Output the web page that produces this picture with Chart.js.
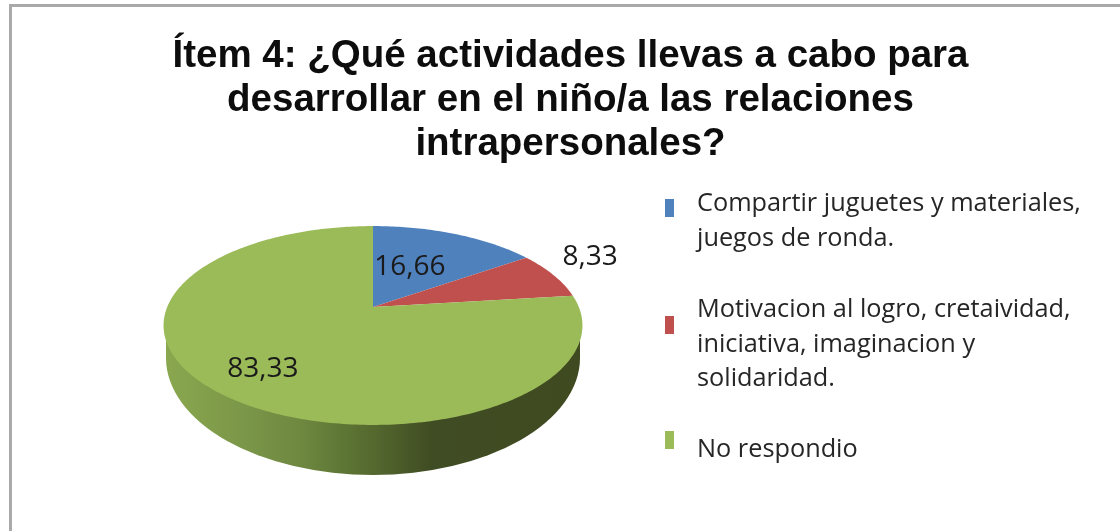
<!DOCTYPE html>
<html><head><meta charset="utf-8">
<style>html,body{margin:0;padding:0;background:#fff;overflow:hidden}#w{width:1120px;height:531px;position:relative;overflow:hidden}canvas{display:block;filter:blur(.5px)}</style>
<script src="https://cdn.jsdelivr.net/npm/chart.js@4/dist/chart.umd.min.js"></script>
</head><body><div id="w"><canvas id="c" width="1120" height="531"></canvas></div>
<script>
const titleLines = ['Ítem 4: ¿Qué actividades llevas a cabo para','desarrollar en el niño/a las relaciones','intrapersonales?'];
const categories = ['Compartir juguetes y materiales, juegos de ronda.','Motivacion al logro, cretaividad, iniciativa, imaginacion y solidaridad.','No respondio'];
const legendLines = [['Compartir juguetes y materiales,','juegos de ronda.'],['Motivacion al logro, cretaividad,','iniciativa, imaginacion y','solidaridad.'],['No respondio']];
const values = [16.66, 8.33, 83.33];
const valueLabels = ['16,66','8,33','83,33'];
const colors = ['#4f81bd','#c0504d','#9bbb59'];

// perspective projection of the pie disc
const P = {cx:373, cy:307, rx:205.8, ry:96, k:-0.186};
const Rim = {cy:358, rx:207, ry:117, topY:325};
function proj(a, f){ // a measured clockwise from 12 o'clock
  const x=Math.sin(a)*f, y=-Math.cos(a)*f, w=1+P.k*y;
  return [P.cx+P.rx*x/w, P.cy+P.ry*y/w];
}
const labelPos = [{f:.413,dx:0,dy:-7},{f:1.22,dx:0,dy:-11},{f:.726,dx:0,dy:4}];
const legendLayout = {markX:665,markW:9,markH:18,markY:[199,316,431],textX:697,textY:[[204,239],[310,345,379],[450]]};

const pie3d = {
  id:'pie3d',
  beforeDraw(chart){
    const c=chart.ctx; c.save();
    c.fillStyle='#a9a9a9';
    c.fillRect(10,4,1110,3); c.fillRect(9,4,3,527);
    c.restore();
  },
  beforeDatasetDraw(chart){
    const c=chart.ctx, arcs=chart.getDatasetMeta(0).data;
    c.save();
    // rim
    const g=c.createLinearGradient(163,0,582,0);
    g.addColorStop(0,'#8aa84f');g.addColorStop(.2,'#7a9648');g.addColorStop(.33,'#6e8840');
    g.addColorStop(.42,'#5f7836');g.addColorStop(.5,'#55692f');g.addColorStop(.64,'#404c23');g.addColorStop(1,'#3f4a21');
    c.beginPath();
    c.moveTo(P.cx-Rim.rx,Rim.topY);
    c.lineTo(P.cx-Rim.rx,Rim.cy);
    c.ellipse(P.cx,Rim.cy,Rim.rx,Rim.ry,0,Math.PI,0,true);
    c.lineTo(P.cx+Rim.rx,Rim.topY);
    c.closePath();c.fillStyle=g;c.fill();
    // top faces, angles taken from the library's arc elements
    arcs.forEach((arc,i)=>{
      const s=arc.startAngle+Math.PI/2,e=arc.endAngle+Math.PI/2,n=Math.max(2,Math.ceil((e-s)*60));
      c.beginPath();c.moveTo(P.cx,P.cy);
      for(let j=0;j<=n;j++){const p=proj(s+(e-s)*j/n,1);c.lineTo(p[0],p[1]);}
      c.closePath();c.fillStyle=colors[i];c.fill();
    });
    c.restore();
    return false;
  },
  afterDatasetsDraw(chart){
    const c=chart.ctx, arcs=chart.getDatasetMeta(0).data;
    c.save();c.fillStyle='#1a1a1a';c.textBaseline='middle';c.textAlign='center';
    c.font='28px "Open Sans"';
    arcs.forEach((arc,i)=>{
      const m=(arc.startAngle+arc.endAngle)/2+Math.PI/2,p=proj(m,labelPos[i].f);
      c.fillText(valueLabels[i],p[0]+labelPos[i].dx,p[1]+labelPos[i].dy);
    });
    // legend
    const L=legendLayout;
    c.textAlign='left';c.font='25.3px "Open Sans"';c.fillStyle='#262626';
    legendLines.forEach((lines,i)=>{
      c.save();c.fillStyle=colors[i];c.fillRect(L.markX,L.markY[i],L.markW,L.markH);c.restore();
      lines.forEach((t,j)=>c.fillText(t,L.textX,L.textY[i][j]));
    });
    c.restore();
  }
};

new Chart(document.getElementById('c'),{
  type:'pie',
  data:{labels:categories,datasets:[{data:values,backgroundColor:colors,borderWidth:0}]},
  options:{
    responsive:false,animation:false,
    layout:{padding:{left:21,top:10,right:0,bottom:0}},
    plugins:{
      legend:{display:false},tooltip:{enabled:false},
      title:{display:true,text:titleLines,color:'#0d0d0d',
        font:{family:'"Liberation Sans"',size:38.5,weight:'bold',lineHeight:1.145},
        padding:{top:24,bottom:0}}
    }
  },
  plugins:[pie3d]
});
</script></body></html>
